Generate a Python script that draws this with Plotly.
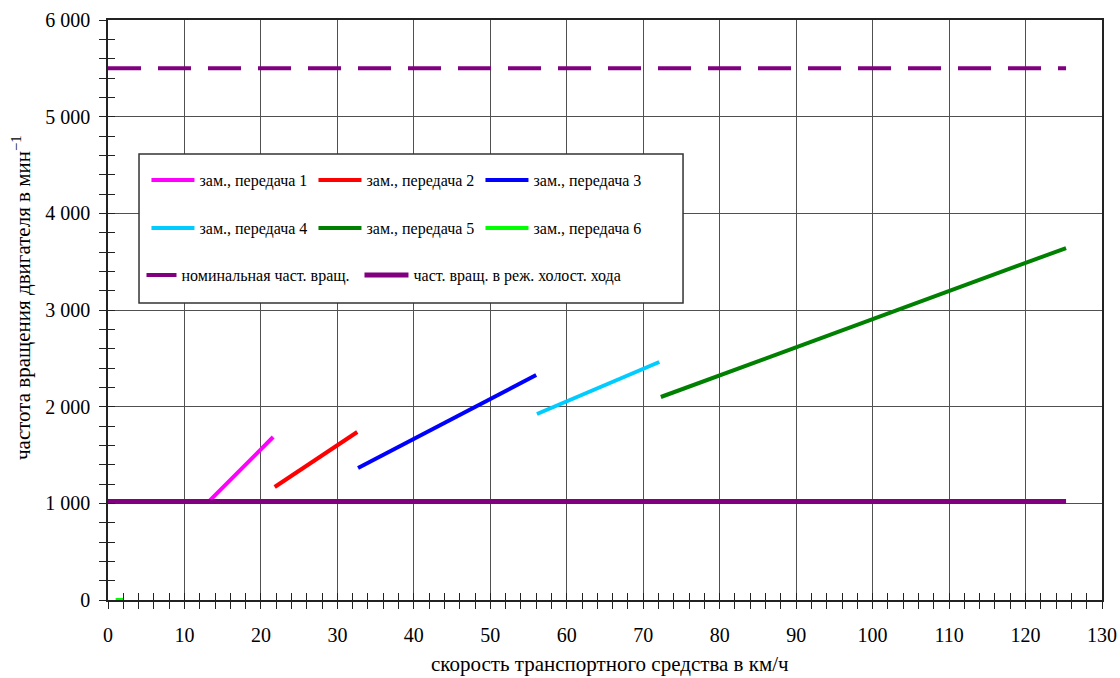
import plotly.graph_objects as go

# ---- data ----
gear_names = ["зам., передача 1", "зам., передача 2", "зам., передача 3",
              "зам., передача 4", "зам., передача 5", "зам., передача 6"]
gear_colors = ["#FF00FF", "#FF0000", "#0000FF", "#00CCFF", "#008000", "#00FF00"]
gear_speed_start = [13.2, 21.8, 32.7, 56.1, 72.3, 1.0]
gear_speed_end = [21.6, 32.6, 56.0, 72.1, 125.3, 2.0]
gear_rpm_start = [1020, 1169, 1365, 1924, 2100, 0]
gear_rpm_end = [1686, 1738, 2327, 2462, 3641, 0]

ref_names = ["номинальная част. вращ.", "част. вращ. в реж. холост. хода"]
ref_speed = [0, 125.3]
nominal_rpm = 5500
idle_rpm = 1020

x_title = "скорость транспортного средства в км/ч"
y_title = "частота вращения двигателя в мин<sup>−1</sup>"

FONT = "Liberation Serif, Times New Roman, serif"

fig = go.Figure()

legend_ids = ["legend", "legend", "legend", "legend2", "legend2", "legend2"]
for i in range(6):
    fig.add_trace(go.Scatter(
        x=[gear_speed_start[i], gear_speed_end[i]],
        y=[gear_rpm_start[i], gear_rpm_end[i]],
        mode="lines", name=gear_names[i],
        line=dict(color=gear_colors[i], width=4),
        legend=legend_ids[i],
    ))

fig.add_trace(go.Scatter(
    x=ref_speed, y=[nominal_rpm, nominal_rpm], mode="lines", name=ref_names[0],
    line=dict(color="#800080", width=4, dash="33px,17px"), legend="legend3"))
fig.add_trace(go.Scatter(
    x=ref_speed, y=[idle_rpm, idle_rpm], mode="lines", name=ref_names[1],
    line=dict(color="#800080", width=5), legend="legend4"))

# helper trace for the crossing ticks (overlay axes)
fig.add_trace(go.Scatter(x=[None], y=[None], xaxis="x2", yaxis="y2",
                         showlegend=False, hoverinfo="skip"))

tickfont = dict(family=FONT, size=20, color="black")
TC = "#222"

fig.update_layout(
    width=1120, height=678,
    margin=dict(l=108, r=18, t=20, b=78, autoexpand=False),
    paper_bgcolor="white", plot_bgcolor="white",
    separators=", ",
    font=dict(family=FONT, color="black"),
    xaxis=dict(range=[0, 130], dtick=10, tick0=0, showgrid=True,
               gridcolor="#505050", gridwidth=1.4, automargin=False,
               showline=True, linecolor=TC, linewidth=1.5, mirror=True,
               ticks="outside", ticklen=7, tickcolor=TC, tickwidth=1.3,
               minor=dict(dtick=2, ticks="outside", ticklen=7, tickcolor=TC,
                          tickwidth=1.3, showgrid=False),
               tickfont=tickfont, ticklabelstandoff=9, zeroline=False),
    yaxis=dict(range=[0, 6000], dtick=1000, tick0=0, showgrid=True,
               gridcolor="#505050", gridwidth=1.4, automargin=False,
               showline=True, linecolor=TC, linewidth=1.5, mirror=True,
               ticks="outside", ticklen=7, tickcolor=TC, tickwidth=1.3,
               minor=dict(dtick=200, ticks="outside", ticklen=7, tickcolor=TC,
                          tickwidth=1.3, showgrid=False),
               tickformat=",d", separatethousands=True,
               tickfont=tickfont, ticklabelstandoff=5, zeroline=False),
    xaxis2=dict(overlaying="x", matches="x", side="bottom", anchor="y2",
                showgrid=False, showline=False, showticklabels=False,
                automargin=False,
                ticks="inside", ticklen=7, tickcolor=TC, tickwidth=1.3,
                dtick=10, tick0=0,
                minor=dict(dtick=2, ticks="inside", ticklen=7, tickcolor=TC,
                           tickwidth=1.3, showgrid=False), zeroline=False),
    yaxis2=dict(overlaying="y", matches="y", side="left", anchor="x2",
                showgrid=False, showline=False, showticklabels=False,
                automargin=False,
                ticks="inside", ticklen=7, tickcolor=TC, tickwidth=1.3,
                dtick=1000, tick0=0,
                minor=dict(dtick=200, ticks="inside", ticklen=7, tickcolor=TC,
                           tickwidth=1.3, showgrid=False), zeroline=False),
    showlegend=True,
)

legend_common = dict(orientation="h", xanchor="left", yanchor="middle",
                     bgcolor="rgba(0,0,0,0)", borderwidth=0,
                     font=dict(family=FONT, size=16, color="black"),
                     entrywidthmode="pixels")
fig.update_layout(
    legend=dict(x=0.0387, y=0.724, entrywidth=109, itemwidth=43, **legend_common),
    legend2=dict(x=0.0387, y=0.641, entrywidth=109, itemwidth=43, **legend_common),
    legend3=dict(x=0.0337, y=0.560, itemwidth=30, **legend_common),
    legend4=dict(x=0.253, y=0.560, itemwidth=44, **legend_common),
)

# legend frame
fig.add_shape(type="rect", xref="paper", yref="paper",
              x0=0.0312, x1=0.5785, y0=0.512, y1=0.769,
              line=dict(color="#333", width=1.5), fillcolor="white", layer="above")

fig.add_annotation(text=x_title, xref="paper", yref="paper",
                   x=(610 - 108) / 994, y=-(664 - 600) / 580,
                   showarrow=False, xanchor="center", yanchor="middle",
                   font=dict(family=FONT, size=21, color="black"))
fig.add_annotation(text=y_title, xref="paper", yref="paper",
                   x=-(108 - 21) / 994, y=(600 - 298) / 580, textangle=-90,
                   showarrow=False, xanchor="center", yanchor="middle",
                   font=dict(family=FONT, size=21, color="black"))

fig.write_html("out.html", config={"displayModeBar": False},
               post_script="document.body.style.margin='0';document.body.style.padding='0';")
